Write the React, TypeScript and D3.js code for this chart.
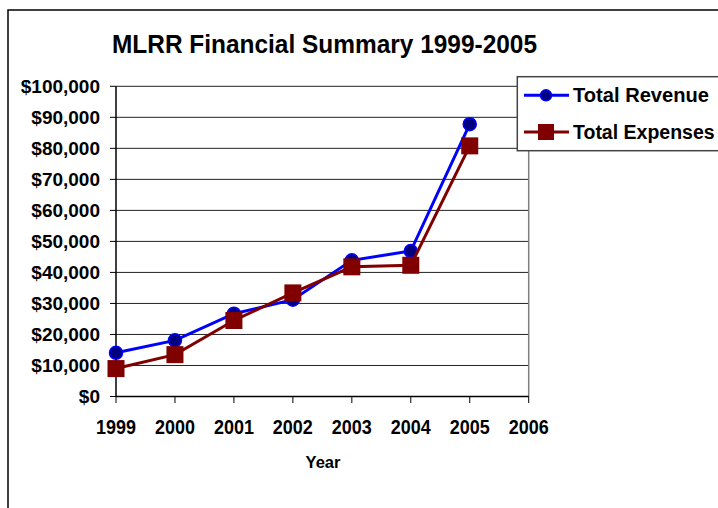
import React from "react";
import * as d3 from "d3";

const years = [1999, 2000, 2001, 2002, 2003, 2004, 2005];
const revenue = [14100, 18100, 26700, 31200, 43900, 46900, 87800];
const expenses = [9000, 13500, 24500, 33400, 41800, 42300, 80800];
const xTicks = [1999, 2000, 2001, 2002, 2003, 2004, 2005, 2006];
const yTicks = [0, 10000, 20000, 30000, 40000, 50000, 60000, 70000, 80000, 90000, 100000];

const W = 718;
const H = 508;
const font = "'Liberation Sans', Arial, sans-serif";

const App: React.FC = () => {
  // plot area
  const x = d3.scaleLinear().domain([1999, 2006]).range([116, 528.7]);
  const y = d3.scaleLinear().domain([0, 100000]).range([396.5, 86.3]);

  const money = (v: number) => "$" + d3.format(",")(v);

  const line = d3
    .line<number>()
    .x((_, i) => x(years[i]))
    .y((d) => y(d));

  return (
    <svg
      width={W}
      height={H}
      style={{ position: "absolute", left: 0, top: 0, background: "#fff" }}
      fontFamily={font}
      fontWeight="bold"
    >
      {/* outer chart border */}
      <path d={`M8,${H + 5} V10 H${W + 5}`} fill="none" stroke="#000" strokeWidth={1.5} />

      <text x={324.5} y={52.5} fontSize={25.5} textAnchor="middle" textLength={425} lengthAdjust="spacingAndGlyphs">
        MLRR Financial Summary 1999-2005
      </text>

      {/* gridlines */}
      {yTicks.slice(1).map((t) => (
        <line key={t} x1={x(1999)} x2={x(2006)} y1={y(t)} y2={y(t)} stroke="#222" strokeWidth={1} />
      ))}
      {/* right border of plot */}
      <line x1={x(2006)} x2={x(2006)} y1={y(100000)} y2={y(0)} stroke="#808080" strokeWidth={1.5} />

      {/* y axis */}
      <line x1={x(1999)} x2={x(1999)} y1={y(100000)} y2={y(0)} stroke="#000" strokeWidth={1.5} />
      {yTicks.map((t) => (
        <g key={t}>
          <line x1={110} x2={x(1999)} y1={y(t)} y2={y(t)} stroke="#000" strokeWidth={1} />
          <text x={100} y={y(t)} dy="0.36em" textAnchor="end" fontSize={19}>
            {money(t)}
          </text>
        </g>
      ))}

      {/* x axis */}
      <line x1={x(1999)} x2={x(2006)} y1={y(0)} y2={y(0)} stroke="#000" strokeWidth={1.5} />
      {xTicks.map((t) => (
        <g key={t}>
          <line x1={x(t)} x2={x(t)} y1={y(0)} y2={y(0) + 6.5} stroke="#000" strokeWidth={1} />
          <text x={x(t)} y={434} textAnchor="middle" fontSize={20} textLength={40} lengthAdjust="spacingAndGlyphs">
            {t}
          </text>
        </g>
      ))}
      <text x={323} y={468} textAnchor="middle" fontSize={16.5}>
        Year
      </text>

      {/* revenue */}
      <path d={line(revenue) || ""} fill="none" stroke="#0000ff" strokeWidth={3} />
      {revenue.map((v, i) => (
        <circle key={i} cx={x(years[i])} cy={y(v)} r={6.5} fill="#000080" stroke="#0000ff" strokeWidth={1.5} />
      ))}

      {/* expenses */}
      <path d={line(expenses) || ""} fill="none" stroke="#800000" strokeWidth={3} />
      {expenses.map((v, i) => (
        <rect key={i} x={x(years[i]) - 8.5} y={y(v) - 8.5} width={17} height={17} fill="#800000" />
      ))}

      {/* legend */}
      <rect x={517.3} y={76.7} width={230} height={74} fill="#fff" stroke="#444" strokeWidth={1.5} />
      <line x1={524} x2={569} y1={95.3} y2={95.3} stroke="#0000ff" strokeWidth={3} />
      <circle cx={546} cy={95.3} r={5.5} fill="#000080" stroke="#0000ff" strokeWidth={1.5} />
      <text x={573} y={102} fontSize={19.5} textLength={136} lengthAdjust="spacingAndGlyphs">
        Total Revenue
      </text>
      <line x1={524} x2={569} y1={132} y2={132} stroke="#800000" strokeWidth={3} />
      <rect x={538} y={124} width={16} height={16} fill="#800000" />
      <text x={573} y={139} fontSize={19.5}>
        Total Expenses
      </text>
    </svg>
  );
};

export default App;
